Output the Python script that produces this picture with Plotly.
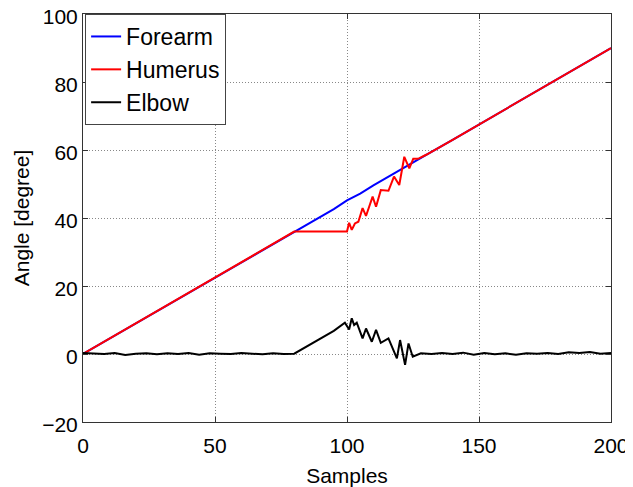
import plotly.graph_objects as go

# forearm angle (nearly straight ramp)
forearm_x = [0, 10, 20, 30, 40, 50, 60, 70, 80, 85, 90, 95, 100, 105, 110, 115, 120, 125,
             130, 140, 150, 160, 170, 180, 190, 200]
forearm_y = [0, 4.5, 9.0, 13.4, 18.0, 22.5, 27.1, 31.5, 36.0, 38.1, 40.4, 42.6, 45.2, 47.2,
             49.6, 51.9, 54.0, 56.3, 58.6, 63.0, 67.5, 72.0, 76.4, 81.0, 85.6, 90.0]

# humerus angle: follows forearm, stalls at ~36 between 80 and 100, then jumps back
humerus_x = [0, 10, 20, 30, 40, 50, 60, 70, 80, 100, 100.8, 101.8, 103, 104.3, 105.9, 107.2,
             109.7, 111, 112.8, 115.7, 117.8, 119.8, 121.7, 123.6, 125.1, 126.9, 130, 140,
             150, 160, 170, 180, 190, 200]
humerus_y = [0, 4.5, 9.0, 13.4, 18.0, 22.5, 27.1, 31.5, 36.0, 36.0, 38.6, 36.5, 38.4, 38.9,
             42.9, 40.6, 46.3, 43.3, 48.2, 48.0, 52.2, 49.7, 58.0, 54.6, 57.4, 57.4, 58.6, 63.0,
             67.5, 72.0, 76.4, 81.0, 85.6, 90.0]

# elbow angle
elbow_x = [0, 4, 8, 12, 16, 20, 24, 28, 32, 36, 40, 44, 48, 52, 56, 60, 64, 68, 72, 76, 80,
           85, 90, 95, 99.2, 100.8, 101.8, 102.7, 103.7, 105.9, 107.2, 109.4, 111, 112.8,
           115.7, 117.6, 118.9, 120.1, 122, 123.3, 124.9, 128, 132, 136, 140, 144, 148, 152,
           156, 160, 164, 168, 172, 176, 180, 184, 188, 192, 196, 200]
elbow_y = [0.3, 0.2, 0.0, 0.3, -0.3, 0.1, 0.2, -0.1, 0.2, 0.0, 0.3, -0.2, 0.2, 0.1, 0.0,
           0.3, 0.1, -0.1, 0.2, 0.0, 0.1, 2.3, 4.6, 6.8, 9.2, 7.2, 10.5, 8.5, 9.2, 4.6, 7.5,
           3.6, 7.1, 3.3, 4.6, 1.2, -1.3, 4.1, -3.2, 3.1, -0.8, 0.2, 0.0, 0.3, 0.0, 0.4, -0.2,
           0.3, -0.1, 0.2, -0.2, 0.2, 0.1, 0.3, 0.0, 0.5, 0.3, 0.6, 0.1, 0.3]

font = "Liberation Sans, Arial, sans-serif"

fig = go.Figure()
fig.add_trace(go.Scatter(x=forearm_x, y=forearm_y, mode='lines', name='Forearm',
                         line=dict(color='#0000ff', width=2)))
fig.add_trace(go.Scatter(x=humerus_x, y=humerus_y, mode='lines', name='Humerus',
                         line=dict(color='#ff0000', width=2)))
fig.add_trace(go.Scatter(x=elbow_x, y=elbow_y, mode='lines', name='Elbow',
                         line=dict(color='#000000', width=2)))

axis_style = dict(showline=True, linecolor='#333333', linewidth=1, mirror='ticks',
                  ticks='inside', ticklen=5, tickcolor='#333333',
                  showgrid=True, gridcolor='#888888', griddash='1px,2px', gridwidth=1,
                  zeroline=False, automargin=False, ticklabeloverflow='allow',
                  tickfont=dict(size=21, color='black', family=font))

fig.update_xaxes(range=[0, 200], tickvals=[0, 50, 100, 150, 200],
                 ticklabelstandoff=5,
                 title=dict(text='Samples', font=dict(size=21, color='black', family=font),
                            standoff=12),
                 **axis_style)
fig.update_yaxes(range=[-20, 100], tickvals=[-20, 0, 20, 40, 60, 80, 100],
                 ticklabelshift=3,
                 title=dict(text='Angle [degree]', font=dict(size=21, color='black', family=font),
                            standoff=6),
                 **axis_style)

# page body adds an 8px offset, so the figure is drawn 8px smaller
fig.update_layout(width=625, height=479,
                  margin=dict(l=75, r=22, t=6, b=65),
                  paper_bgcolor='white', plot_bgcolor='white',
                  font=dict(family=font, color='black'),
                  legend=dict(x=0.004, y=1, xanchor='left', yanchor='top',
                              bgcolor='white', bordercolor='#444444', borderwidth=1,
                              font=dict(size=23, color='black', family=font),
                              itemwidth=30, tracegroupgap=0))

fig.write_html("out.html")
